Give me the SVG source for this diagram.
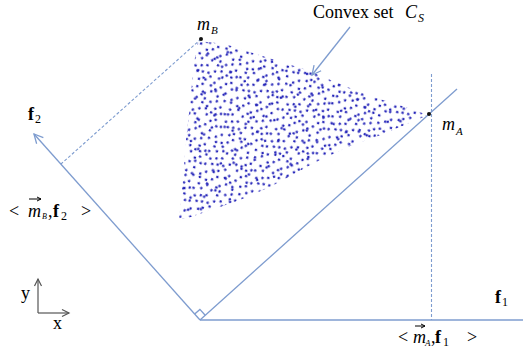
<svg xmlns="http://www.w3.org/2000/svg" width="523" height="350" viewBox="0 0 523 350">
<defs>
<style>
.ax{stroke:#7e9ccf;stroke-width:1.3;fill:none}
.dash{stroke:#7e9ccf;stroke-width:1.1;fill:none;stroke-dasharray:3 2}
.gr{stroke:#555;stroke-width:1.2;fill:none}
.t{font-family:"Liberation Serif","Times New Roman",serif;font-size:18px;fill:#000}
.i{font-style:italic}
.b{font-weight:bold}
.n{font-weight:normal}
.dt{stroke:#2323b8;stroke-width:2.5;stroke-linecap:round;fill:none}
</style>
<marker id="ah" markerUnits="userSpaceOnUse" markerWidth="14" markerHeight="14" viewBox="-12 -7 14 14" refX="0" refY="0" orient="auto"><path d="M-9,-4.5 L0,0 L-9,4.5" fill="none" stroke="#7e9ccf" stroke-width="1.3"/></marker>
<marker id="ag" markerUnits="userSpaceOnUse" markerWidth="12" markerHeight="12" viewBox="-10 -6 12 12" refX="0" refY="0" orient="auto"><path d="M-7,-3.5 L0,0 L-7,3.5" fill="none" stroke="#555" stroke-width="1.2"/></marker>
<marker id="ak" markerUnits="userSpaceOnUse" markerWidth="8" markerHeight="8" viewBox="-6 -4 8 8" refX="0" refY="0" orient="auto"><path d="M-4,-2 L0,0 L-4,2" fill="none" stroke="#000" stroke-width="1"/></marker>
<pattern id="dots" patternUnits="userSpaceOnUse" width="50" height="40" patternTransform="rotate(23)">
<path class="dt" d="M2.1 1.5h0.1M9.8 4.9h0.1M15.2 2.3h0.1M24.7 5.6h0.1M30.1 1.6h0.1M37.9 3.8h0.1M46.2 5.2h0.1M4.6 10.9h0.1M12.3 8.1h0.1M18.9 12.4h0.1M22.4 7.9h0.1M33.5 11.6h0.1M39.1 8.4h0.1M44.8 12.7h0.1M1.5 17.2h0.1M8.7 14.6h0.1M16.4 18.9h0.1M26.2 15.1h0.1M31.8 19.3h0.1M40.6 16h0.1M47.9 18.5h0.1M5.5 23.8h0.1M11.1 21.2h0.1M20.3 25.4h0.1M25.8 21.7h0.1M34.9 24.6h0.1M38.2 21h0.1M45.3 25.9h0.1M2.9 30.4h0.1M9.4 28h0.1M17.7 31.9h0.1M23.6 28.3h0.1M29.7 32.6h0.1M40.9 29.1h0.1M48.4 31.7h0.1M6.8 37.5h0.1M13.9 34.8h0.1M19.2 38.1h0.1M27.5 36.3h0.1M33.2 38.3h0.1M37.4 34.2h0.1M44.1 38h0.1M26.9 10.6h0.1M14.6 26.4h0.1M43.2 21h0.1"/>
</pattern>
<pattern id="dots2" patternUnits="userSpaceOnUse" width="43" height="37" patternTransform="rotate(-14)">
<path class="dt" d="M3.2 5.1h0.1M27.3 7.4h0.1M8.1 15.8h0.1M33.9 14.7h0.1M2.7 26.9h0.1M15.3 29.4h0.1M36.4 31.8h0.1M22.1 35.1h0.1M21.5 18.2h0.1"/>
</pattern>
</defs>

<g id="convex-set">
<polygon fill="url(#dots)" points="198,41 225,44 275,60 310,71 335,82 370,96 402,106 428,115 400,127 378,136 350,146 314,163 272,186 240,200 185,219 179,219 183,180 186,140 190,105 193,72 196,50"/>
<polygon fill="url(#dots2)" points="198,41 225,44 275,60 310,71 335,82 370,96 402,106 428,115 400,127 378,136 350,146 314,163 272,186 240,200 185,219 179,219 183,180 186,140 190,105 193,72 196,50"/>
</g>

<g id="connectors">
<line class="ax" x1="200" y1="320" x2="34" y2="134" marker-end="url(#ah)"/>
<line class="ax" x1="200" y1="320" x2="523" y2="320"/>
<line class="ax" x1="200" y1="320" x2="457" y2="89"/>
<line class="dash" x1="201" y1="39" x2="61" y2="164"/>
<line class="dash" x1="431.5" y1="74" x2="431.5" y2="320"/>
<line class="ax" x1="350" y1="27" x2="312" y2="75" marker-end="url(#ah)"/>
<path class="ax" d="M194.7,314.1 L199.9,309.4 L205.2,315.3"/>
</g>

<g id="mB">
<circle cx="201" cy="39" r="2" fill="#111"/>
<text class="t i" x="197" y="30">m<tspan x="211" dy="4" font-size="11">B</tspan></text>
</g>

<g id="mA">
<circle cx="429" cy="114" r="2" fill="#111"/>
<text class="t i" x="442" y="130">m<tspan x="456" dy="5" font-size="11">A</tspan></text>
</g>

<g id="label-convex">
<text class="t" x="313" y="18" font-size="19">Convex set <tspan class="i" x="405">C</tspan><tspan class="i" x="418" dy="4" font-size="12">S</tspan></text>
</g>

<g id="f2-label">
<text class="t b" x="28" y="120">f<tspan class="n" x="35" dy="3" font-size="12">2</tspan></text>
</g>

<g id="f1-label">
<text class="t b" x="495" y="303">f<tspan class="n" x="502" dy="3" font-size="12">1</tspan></text>
</g>

<g id="proj-B">
<text class="t" y="217"><tspan x="9">&lt;</tspan><tspan class="i" x="28">m</tspan><tspan class="i" x="42" dy="2" font-size="8">B</tspan><tspan x="48" dy="-2">,</tspan><tspan class="b" x="53">f</tspan><tspan x="61" dy="3" font-size="12">2</tspan><tspan x="81" dy="-3">&gt;</tspan></text>
<line x1="29" y1="199" x2="41" y2="199" stroke="#000" stroke-width="1" marker-end="url(#ak)"/>
</g>

<g id="proj-A">
<text class="t" y="343"><tspan x="398">&lt;</tspan><tspan class="i" x="413">m</tspan><tspan class="i" x="425" dy="3" font-size="9">A</tspan><tspan x="431" dy="-3">,</tspan><tspan class="b" x="435">f</tspan><tspan x="443" dy="3" font-size="12">1</tspan><tspan x="467" dy="-3">&gt;</tspan></text>
<line x1="415" y1="326" x2="425" y2="326" stroke="#000" stroke-width="1" marker-end="url(#ak)"/>
</g>

<g id="xy-axes">
<line class="gr" x1="38" y1="313" x2="38" y2="279" marker-end="url(#ag)"/>
<line class="gr" x1="38" y1="313" x2="69" y2="313" marker-end="url(#ag)"/>
<text class="t" x="21" y="299">y</text>
<text class="t" x="53" y="329">x</text>
</g>
</svg>
